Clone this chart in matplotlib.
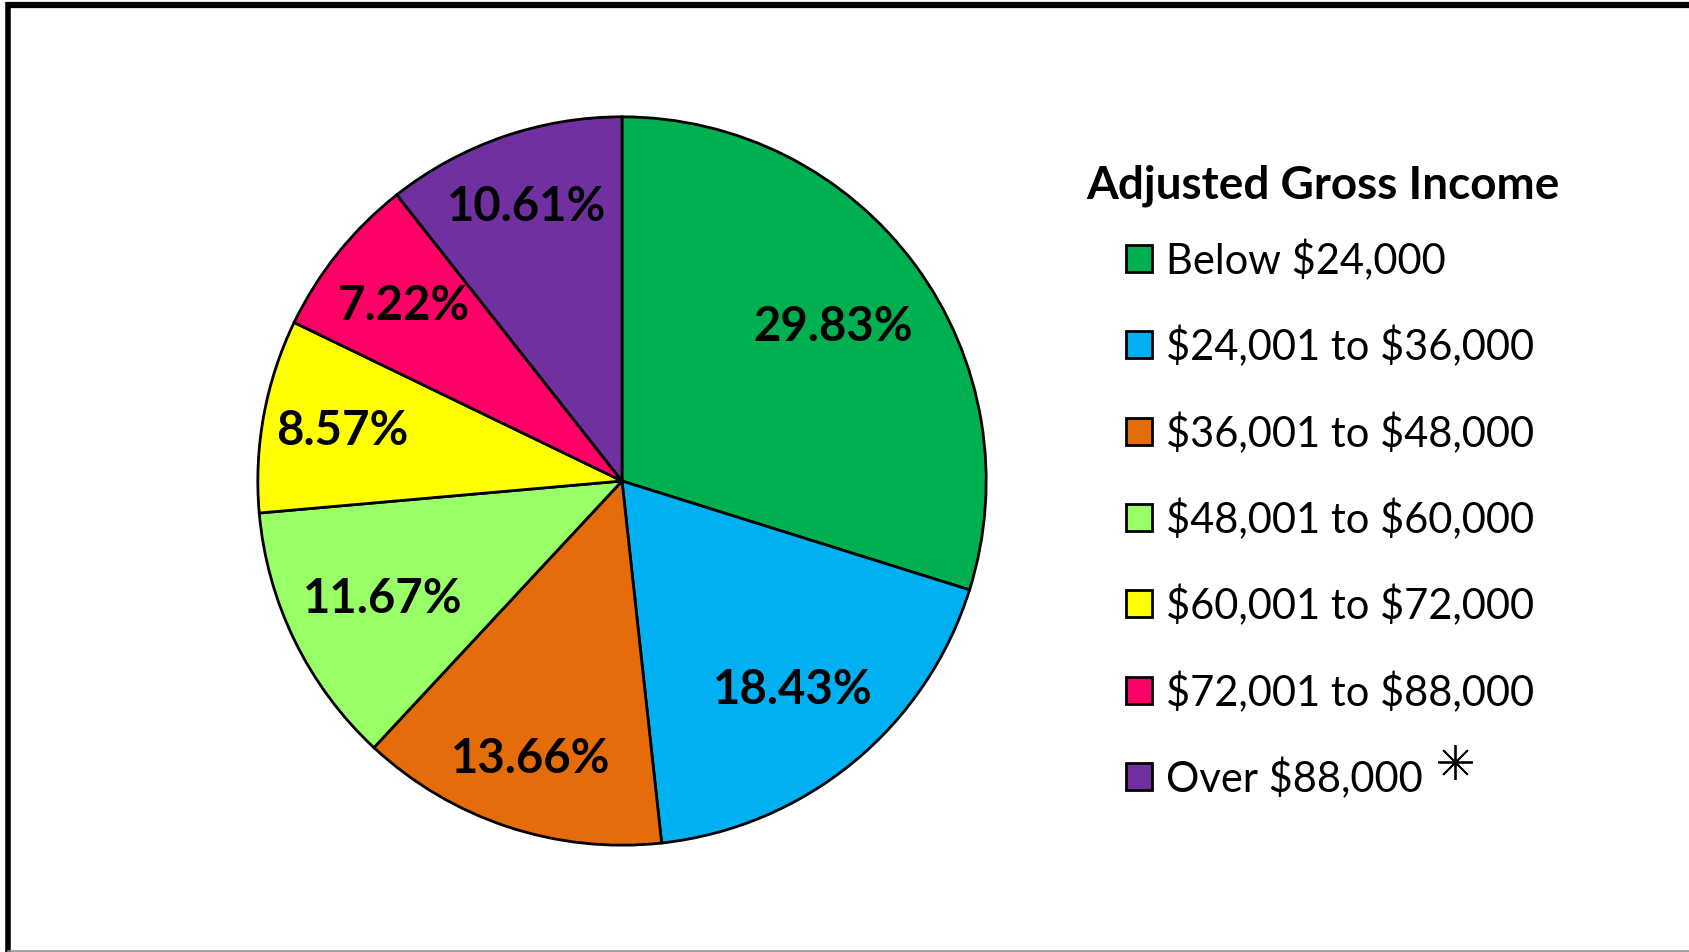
import matplotlib
matplotlib.use("Agg")
import matplotlib.pyplot as plt
from matplotlib.lines import Line2D

# income brackets and their share (%)
brackets = ["Below $24,000", "$24,001 to $36,000", "$36,001 to $48,000",
            "$48,001 to $60,000", "$60,001 to $72,000", "$72,001 to $88,000",
            "Over $88,000"]
shares = [29.83, 18.43, 13.66, 11.67, 8.57, 7.22, 10.61]
colors = ["#00B050", "#00B0F0", "#E46C0A", "#99FF66", "#FFFF00", "#FF0066", "#7030A0"]
legend_title = "Adjusted Gross Income"

plt.rcParams["font.family"] = ["Lato", "DejaVu Sans"]

W, H = 1690, 953
fig = plt.figure(figsize=(W / 100, H / 100), dpi=100)

# pie: centre (622, 481) px from top-left, radius ~365 px
cx, cy, r = 622, H - 482, 366
ax = fig.add_axes([(cx - r) / W, (cy - r) / H, 2 * r / W, 2 * r / H])
pct_text = [f"{v:.2f}%" for v in shares]
wedges, texts = ax.pie(shares, colors=colors, startangle=90, counterclock=False,
                       labels=pct_text, labeldistance=1.0,
                       wedgeprops=dict(edgecolor="black", linewidth=2))
# label distance from centre, per slice (Excel "best fit" look)
label_r = [0.72, 0.74, 0.80, 0.73, 0.78, 0.77, 0.80]
for t, d in zip(texts, label_r):
    x, y = t.get_position()
    t.set_position((x * d, y * d))
    t.set_horizontalalignment("center")
    t.set_verticalalignment("center")
    t.set_fontsize(34)
    t.set_fontweight("bold")
    t.set_color("black")
ax.set_xlim(-1.005, 1.005)
ax.set_ylim(-1.005, 1.005)
ax.set_aspect("equal")
ax.axis("off")

# legend
fig.text(1086 / W, 1 - 186 / H, legend_title, fontsize=33, fontweight="bold",
         ha="left", va="center")
fig.legend(wedges, [b.replace("$", r"\$") for b in brackets], loc="upper left",
           bbox_to_anchor=(1126 / W, 1 - 240 / H),
           frameon=False, fontsize=30, borderpad=0, borderaxespad=0,
           labelspacing=1.08, handlelength=0.62, handleheight=0.62,
           handletextpad=0.34)

# asterisk next to the last entry
fig.add_artist(Line2D([1455 / W], [1 - 763 / H], transform=fig.transFigure,
                      marker=(8, 2, 0), markersize=25, color="black",
                      markeredgewidth=1.3, linestyle="none"))

# frame
fig.add_artist(Line2D([6 / W, 1], [1 - 6 / H, 1 - 6 / H], transform=fig.transFigure,
                      color="black", linewidth=4.5, solid_capstyle="butt"))
fig.add_artist(Line2D([8.5 / W, 8.5 / W], [0, 1 - 3 / H], transform=fig.transFigure,
                      color="black", linewidth=4, solid_capstyle="butt"))
fig.add_artist(Line2D([8.5 / W, 1], [1.5 / H, 1.5 / H], transform=fig.transFigure,
                      color="#909090", linewidth=1.2))

fig.savefig("out.png", dpi=100)
